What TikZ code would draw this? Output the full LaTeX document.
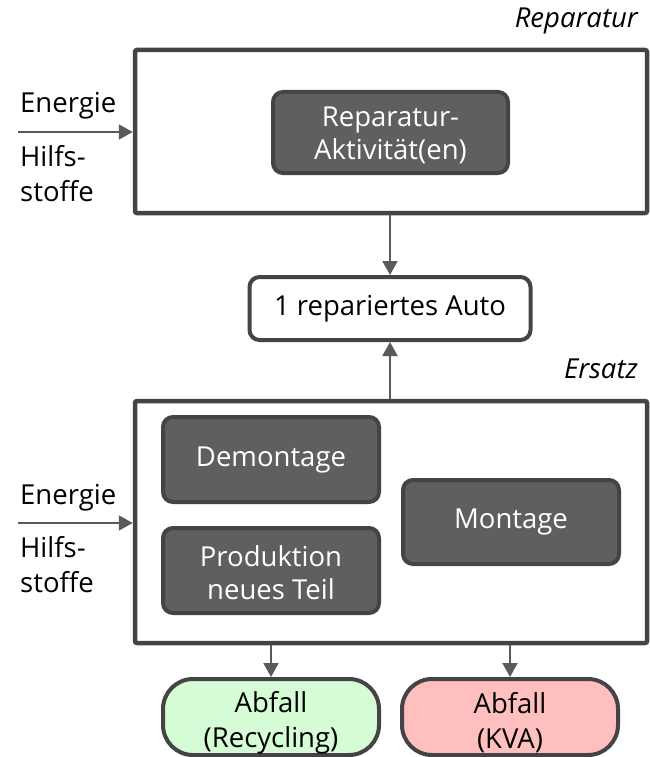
\documentclass[tikz,border=0pt]{standalone}
\usepackage{fontspec}
\setmainfont{Open Sans}
\usetikzlibrary{arrows.meta,calc}
\definecolor{bordergray}{HTML}{444444}
\definecolor{actfill}{HTML}{5F5F5F}
\definecolor{arrowgray}{HTML}{5A5A5A}
\definecolor{recfill}{HTML}{D5FCD5}
\definecolor{kvafill}{HTML}{FFBFBF}
\tikzset{
  every node/.style={font=\fontsize{27.5}{34}\selectfont},
  outerbox/.style={draw=bordergray, line width=4.5pt, rounded corners=2pt, fill=white},
  actbox/.style={draw=bordergray, line width=4pt, rounded corners=10pt, fill=actfill,
    text=white, align=center, inner sep=0pt},
  autobox/.style={draw=bordergray, line width=4pt, rounded corners=10pt, fill=white,
    align=center, inner sep=0pt},
  wastebox/.style={draw=bordergray, line width=4pt, rounded corners=30pt,
    align=center, inner sep=0pt, font=\fontsize{27.5}{35}\selectfont},
  flow/.style={draw=arrowgray, line width=2pt, -{Triangle[length=14pt,width=15pt]}},
  plain/.style={inner sep=0pt, text=black},
  boxlabel/.style={inner sep=0pt, font=\fontsize{27.5}{34}\selectfont\itshape}
}
\begin{document}
\begin{tikzpicture}[x=1pt,y=-1pt]
\useasboundingbox (0,0) rectangle (650,757);
% Reparatur
\node[boxlabel, anchor=base east] (replabel) at (638,28) {Reparatur};
\node[outerbox, minimum width=512pt, minimum height=163pt] (repbox) at (391,131.5) {};
\node[actbox, minimum width=235pt, minimum height=81pt, font=\fontsize{27.5}{33}\selectfont] (act) at (390.5,132.5) {\rule{0pt}{26pt}Reparatur-\\Aktivität(en)};
\coordinate (e1) at (18,132);
\node[plain, anchor=base west] (energie1) at (20,113) {Energie};
\node[plain, anchor=north west, align=left, font=\fontsize{27.5}{35}\selectfont] (hilfs1) at (20,145.5) {Hilfs-\\stoffe};
\draw[flow] (e1) -- (e1 -| repbox.west);
% Auto
\node[autobox, minimum width=281pt, minimum height=63pt] (auto) at (390,308.5) {1 repariertes Auto};
\draw[flow] (auto.north |- repbox.south) -- (auto.north);
% Ersatz
\node[boxlabel, anchor=base east] (erslabel) at (638,378) {Ersatz};
\node[outerbox, minimum width=512pt, minimum height=242pt] (ersbox) at (391,522) {};
\draw[flow] (auto.south |- ersbox.north) -- (auto.south);
\node[actbox, minimum width=216pt, minimum height=85pt] (demo) at (271,459.5) {Demontage};
\node[actbox, minimum width=216pt, minimum height=85pt, font=\fontsize{27.5}{33}\selectfont] (prod) at (271,570.5) {\rule{0pt}{26pt}Produktion\\neues Teil};
\node[actbox, minimum width=216pt, minimum height=84pt] (mont) at (511,522) {Montage};
\coordinate (e2) at (18,523);
\node[plain, anchor=base west] (energie2) at (20,504) {Energie};
\node[plain, anchor=north west, align=left, font=\fontsize{27.5}{35}\selectfont] (hilfs2) at (20,536.5) {Hilfs-\\stoffe};
\draw[flow] (e2) -- (e2 -| ersbox.west);
% Abfall
\node[wastebox, fill=recfill, minimum width=216pt, minimum height=76pt] (rec) at (271,717) {\rule{0pt}{33pt}Abfall\\(Recycling)};
\node[wastebox, fill=kvafill, minimum width=216pt, minimum height=76pt] (kva) at (510,717) {\rule{0pt}{33pt}Abfall\\(KVA)};
\draw[flow] (rec.north |- ersbox.south) -- (rec.north);
\draw[flow] (kva.north |- ersbox.south) -- (kva.north);
\end{tikzpicture}
\end{document}
